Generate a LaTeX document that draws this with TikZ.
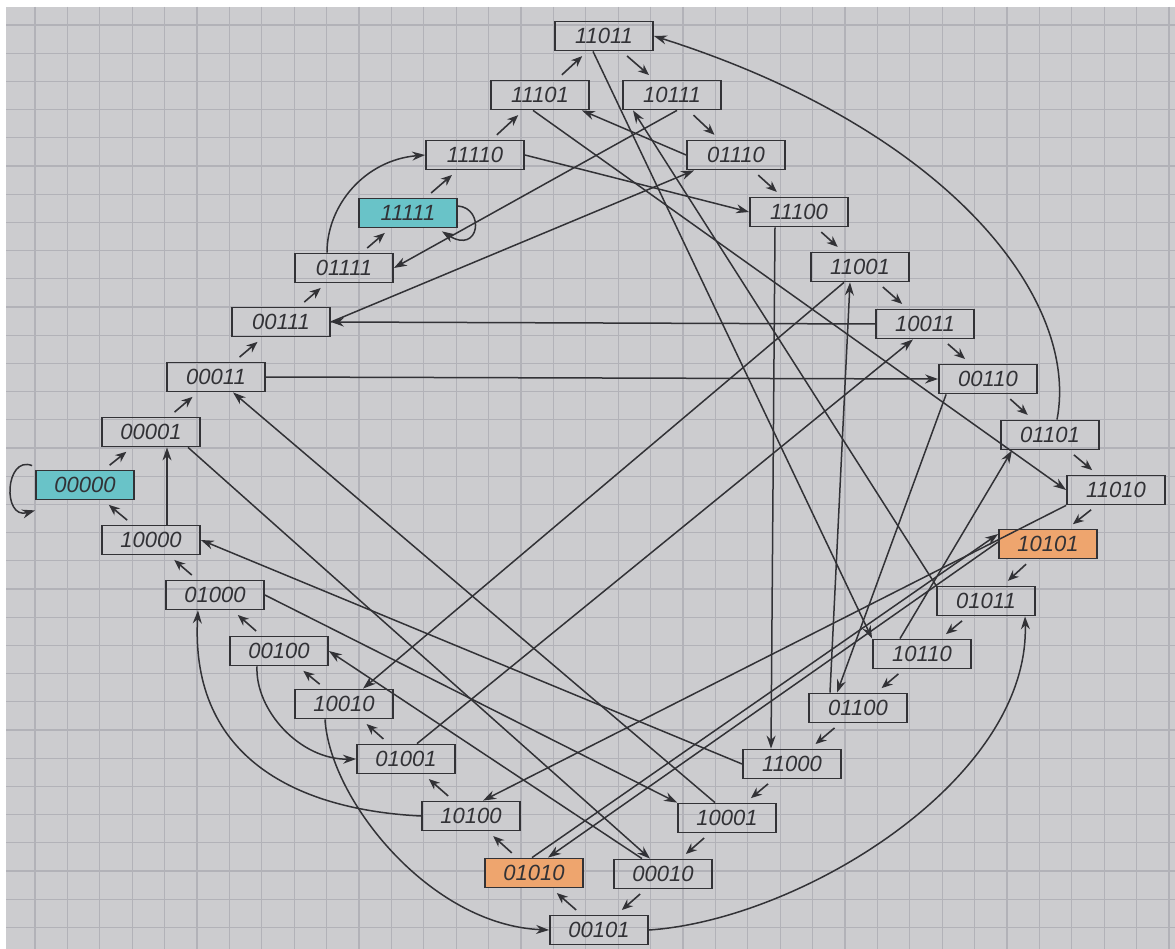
\documentclass[tikz,border=0pt]{standalone}
\usepackage{fontspec}
\setmainfont{Liberation Sans}
\usetikzlibrary{arrows.meta,calc}
\definecolor{paper}{RGB}{204,204,207}
\definecolor{gridc}{RGB}{178,178,184}
\definecolor{ink}{RGB}{50,50,54}
\definecolor{cyanf}{RGB}{105,195,200}
\definecolor{orangef}{RGB}{238,165,110}
\begin{document}
\begin{tikzpicture}[x=1pt,y=-1pt,
 bx/.style={draw=ink, line width=1.8pt, minimum width=98pt, minimum height=29pt, inner sep=0pt, text=ink, font=\fontsize{22}{22}\selectfont\itshape},
 cyc/.style={-{Stealth[length=11pt,width=9pt]}, draw=ink, line width=1.6pt, shorten >=7pt, shorten <=7pt},
 lng/.style={-{Stealth[length=13pt,width=9pt]}, draw=ink, line width=1.5pt},
 gridline/.style={draw=gridc, line width=1.1pt}
]
\fill[white] (0,0) rectangle (1175,949);
\fill[paper] (6,7) rectangle (1175,949);
\useasboundingbox (0,0) rectangle (1175,949);
\foreach \i in {0,...,35} \draw[gridline] ({35+32.4*\i},7) -- ({35+32.4*\i},949);
\foreach \j in {0,...,32} \draw[gridline] (6,{25+28.2*\j}) -- (1175,{25+28.2*\j});

\node[bx] (n11011) at (604,36) {11011};
\node[bx] (n11101) at (540,95) {11101};
\node[bx] (n10111) at (672,95) {10111};
\node[bx] (n11110) at (475,155) {11110};
\node[bx] (n01110) at (736,155) {01110};
\node[bx,fill=cyanf] (n11111) at (408,213) {11111};
\node[bx] (n11100) at (799,212) {11100};
\node[bx] (n01111) at (344,268) {01111};
\node[bx] (n11001) at (860,267) {11001};
\node[bx] (n00111) at (281,322) {00111};
\node[bx] (n10011) at (925,324) {10011};
\node[bx] (n00011) at (216,377) {00011};
\node[bx] (n00110) at (988,379) {00110};
\node[bx] (n00001) at (151,432) {00001};
\node[bx] (n01101) at (1050,435) {01101};
\node[bx,fill=cyanf] (n00000) at (85,485) {00000};
\node[bx] (n11010) at (1116,490) {11010};
\node[bx] (n10000) at (151,540) {10000};
\node[bx,fill=orangef] (n10101) at (1048,544) {10101};
\node[bx] (n01000) at (215,595) {01000};
\node[bx] (n01011) at (986,601) {01011};
\node[bx] (n00100) at (279,651) {00100};
\node[bx] (n10110) at (922,654) {10110};
\node[bx] (n10010) at (344,704) {10010};
\node[bx] (n01100) at (858,708) {01100};
\node[bx] (n01001) at (406,759) {01001};
\node[bx] (n11000) at (792,764) {11000};
\node[bx] (n10100) at (471,816) {10100};
\node[bx] (n10001) at (727,818) {10001};
\node[bx,fill=orangef] (n01010) at (534,873) {01010};
\node[bx] (n00010) at (663,874) {00010};
\node[bx] (n00101) at (599,930) {00101};

\foreach \a/\b in {00000/00001, 00001/00011, 00011/00111, 00111/01111, 01111/11111, 11111/11110, 11110/11101, 11101/11011, 11011/10111, 10111/01110, 01110/11100, 11100/11001, 11001/10011, 10011/00110, 00110/01101, 01101/11010, 11010/10101, 10101/01011, 01011/10110, 10110/01100, 01100/11000, 11000/10001, 10001/00010, 00010/00101, 00101/01010, 01010/10100, 10100/01001, 01001/10010, 10010/00100, 00100/01000, 01000/10000, 10000/00000}
  \draw[cyc] (n\a) -- (n\b);

\draw[lng] ([xshift=37pt]n00001.south) -- ([xshift=-13pt]n00010.north);
\draw[lng] (n00011.east) -- (n00110.west);
\draw[lng] (n00111.east) -- ([xshift=8pt]n01110.south west);
\draw[lng] ([xshift=-17pt]n01111.north) .. controls (327,205) and (365,160) .. (n11110.west);
\draw[lng] (n11110.east) -- (n11100.west);
\draw[lng] ([xshift=-7pt]n11101.south) -- (n11010.west);
\draw[lng] ([xshift=-11pt]n11011.south) -- (n10110.north west);
\draw[lng] ([xshift=5pt]n10111.south) -- (n01111.east);
\draw[lng] (n01110.west) -- ([xshift=-8pt]n11101.south east);
\draw[lng] ([xshift=-24pt]n11100.south) -- ([xshift=-21pt]n11000.north);
\draw[lng] ([xshift=-16pt]n11001.south) -- ([xshift=19pt]n10010.north);
\draw[lng] (n10011.west) -- (n00111.east);
\draw[lng] ([xshift=8pt]n00110.south west) -- ([xshift=-21pt]n01100.north);
\draw[lng] ([xshift=7pt]n01101.north) .. controls (1080,300) and (950,130) .. (n11011.east);
\draw[lng] (n11010.south west) -- ([xshift=12pt]n10100.north);
\draw[lng] ([xshift=-2pt]n01010.north) -- ([yshift=10pt]n10101.west);
\draw[lng] ([yshift=2pt]n10101.west) -- ([xshift=14pt]n01010.north);
\draw[lng] (n01011.north west) -- ([xshift=-39pt]n10111.south);
\draw[lng] ([xshift=-22pt]n10110.north) -- ([xshift=-38pt]n01101.south);
\draw[lng] ([xshift=-28pt]n01100.north) -- ([xshift=-10pt]n11001.south);
\draw[lng] (n11000.west) -- (n10000.east);
\draw[lng] ([xshift=-12pt]n10001.north) -- ([xshift=17pt]n00011.south);
\draw[lng] ([xshift=-21pt]n00010.north) -- (n00100.east);
\draw[lng] ([xshift=-22pt]n00100.south) .. controls (255,710) and (300,760) .. (n01001.west);
\draw[lng] (n01000.east) -- (n10001.north west);
\draw[lng] ([xshift=-19pt]n10010.south) .. controls (330,800) and (430,925) .. (n00101.west);
\draw[lng] ([xshift=11pt]n01001.north) -- ([xshift=-12pt]n10011.south);
\draw[lng] (n10100.west) .. controls (300,810) and (190,760) .. ([xshift=-17pt]n01000.south);
\draw[lng] (n00101.east) .. controls (800,920) and (1030,780) .. ([xshift=39pt]n01011.south);
\draw[lng] ([xshift=16pt]n10000.north) -- ([xshift=16pt]n00001.south);
\draw[lng] ([xshift=-3pt,yshift=4pt]n00000.north west) .. controls (5,455) and (2,520) .. ([yshift=-10pt]n00000.south west);
\draw[lng] ([yshift=7pt]n11111.east) .. controls (485,208) and (480,255) .. ([xshift=-16pt,yshift=-3pt]n11111.south east);
\end{tikzpicture}
\end{document}
